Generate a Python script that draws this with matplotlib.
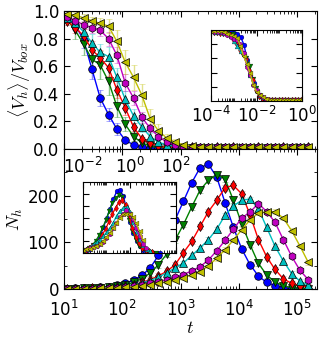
import matplotlib
matplotlib.use('Agg')
import matplotlib.pyplot as plt
import numpy as np
from matplotlib import ticker
from matplotlib.colors import to_rgba

plt.rcParams['mathtext.fontset'] = 'cm'
plt.rcParams['font.size'] = 12

# sampling times
t = [1.12, 1.56, 2.17, 3.01, 4.18, 5.81, 8.07, 11.2, 15.6, 21.7, 30.1, 41.8, 58.1, 80.7,
     112, 156, 217, 301, 418, 581, 807, 1122, 1560, 2168, 3012, 4180, 5808, 8072,
     11220, 15600, 21680, 30120, 41800, 58080, 80720, 112200, 156000]

colors = ['b', 'g', 'r', 'c', 'm', 'y']
markers = ['o', 'v', 'd', '^', 'h', '<']
# time scale used for the collapsed insets
tau = [7700, 11700, 16500, 20800, 29400, 41500]

# <V_h>/V_box
v_blue = [0.99, 0.99, 0.985, 0.98, 0.975, 0.97, 0.96,
          0.95, 0.90, 0.79, 0.58, 0.37, 0.25, 0.145, 0.065, 0.03, 0.014, 0.01,
          0.009, 0.009, 0.008, 0.009, 0.008, 0.009, 0.008, 0.008, 0.009, 0.008,
          0.008, 0.009, 0.008, 0.008, 0.009, 0.008, 0.008, 0.009, 0.008]
v_green = [0.99, 0.985, 0.98, 0.975, 0.97, 0.96, 0.95,
           0.94, 0.86, 0.76, 0.65, 0.61, 0.49, 0.31, 0.18, 0.09, 0.045, 0.02, 0.012,
           0.01, 0.009, 0.01, 0.009, 0.01, 0.009, 0.009, 0.01, 0.009, 0.01,
           0.009, 0.009, 0.01, 0.009, 0.01, 0.009, 0.009, 0.01]
v_red = [0.985, 0.98, 0.975, 0.97, 0.96, 0.955, 0.945,
         0.93, 0.88, 0.82, 0.72, 0.66, 0.59, 0.43, 0.30, 0.16, 0.075, 0.04, 0.02, 0.013,
         0.011, 0.01, 0.011, 0.01, 0.01, 0.011, 0.01, 0.011, 0.01,
         0.01, 0.011, 0.01, 0.01, 0.011, 0.01, 0.01, 0.011]
v_cyan = [0.99, 0.985, 0.98, 0.975, 0.97, 0.965, 0.96,
          0.95, 0.91, 0.85, 0.77, 0.70, 0.67, 0.52, 0.36, 0.24, 0.16, 0.09, 0.05, 0.03, 0.018,
          0.013, 0.012, 0.012, 0.011, 0.012, 0.011, 0.012, 0.011,
          0.012, 0.011, 0.011, 0.012, 0.011, 0.012, 0.011, 0.011]
v_mag = [0.99, 0.99, 0.985, 0.98, 0.975, 0.97, 0.965,
         0.96, 0.93, 0.90, 0.88, 0.86, 0.80, 0.68, 0.48, 0.37, 0.23, 0.15, 0.09, 0.05, 0.03, 0.018,
         0.013, 0.012, 0.012, 0.011, 0.012, 0.011, 0.012, 0.011,
         0.012, 0.011, 0.011, 0.012, 0.011, 0.012, 0.011]
v_yel = [0.995, 0.99, 0.99, 0.985, 0.985, 0.98, 0.98,
         0.98, 0.97, 0.95, 0.93, 0.91, 0.89, 0.78, 0.63, 0.52, 0.39, 0.22, 0.13, 0.08, 0.05, 0.03, 0.02,
         0.015, 0.014, 0.013, 0.014, 0.013, 0.014, 0.013,
         0.013, 0.014, 0.013, 0.014, 0.013, 0.013, 0.014]

e_blue = [0.005, 0.005, 0.005, 0.005, 0.005, 0.005, 0.005,
          0.02, 0.04, 0.06, 0.07, 0.06, 0.05, 0.04, 0.025, 0.012, 0.006, 0.004,
          0.003, 0.003, 0.003, 0.003, 0.003, 0.003, 0.003, 0.003, 0.003, 0.003,
          0.003, 0.003, 0.003, 0.003, 0.003, 0.003, 0.003, 0.003, 0.003]
e_green = [0.005, 0.005, 0.005, 0.005, 0.005, 0.005, 0.005,
           0.03, 0.06, 0.08, 0.09, 0.10, 0.10, 0.08, 0.05, 0.03, 0.015, 0.008, 0.005,
           0.003, 0.003, 0.003, 0.003, 0.003, 0.003, 0.003, 0.003, 0.003, 0.003,
           0.003, 0.003, 0.003, 0.003, 0.003, 0.003, 0.003, 0.003]
e_red = [0.005, 0.005, 0.005, 0.005, 0.005, 0.005, 0.005,
         0.03, 0.04, 0.05, 0.06, 0.06, 0.06, 0.06, 0.05, 0.03, 0.015, 0.008, 0.005, 0.004,
         0.003, 0.003, 0.003, 0.003, 0.003, 0.003, 0.003, 0.003, 0.003,
         0.003, 0.003, 0.003, 0.003, 0.003, 0.003, 0.003, 0.003]
e_cyan = [0.005, 0.005, 0.005, 0.005, 0.005, 0.005, 0.005,
          0.02, 0.04, 0.05, 0.06, 0.06, 0.07, 0.07, 0.06, 0.05, 0.04, 0.025, 0.015, 0.008, 0.005,
          0.003, 0.003, 0.003, 0.003, 0.003, 0.003, 0.003, 0.003,
          0.003, 0.003, 0.003, 0.003, 0.003, 0.003, 0.003, 0.003]
e_mag = [0.005, 0.005, 0.005, 0.005, 0.005, 0.005, 0.005,
         0.02, 0.03, 0.03, 0.04, 0.04, 0.05, 0.06, 0.06, 0.05, 0.04, 0.03, 0.02, 0.012, 0.008, 0.005,
         0.003, 0.003, 0.003, 0.003, 0.003, 0.003, 0.003, 0.003,
         0.003, 0.003, 0.003, 0.003, 0.003, 0.003, 0.003]
e_yel = [0.005, 0.005, 0.005, 0.005, 0.005, 0.005, 0.005,
         0.02, 0.02, 0.03, 0.03, 0.04, 0.05, 0.08, 0.09, 0.09, 0.08, 0.07, 0.05, 0.03, 0.02, 0.012, 0.008,
         0.004, 0.003, 0.003, 0.003, 0.003, 0.003, 0.003,
         0.003, 0.003, 0.003, 0.003, 0.003, 0.003, 0.003]

# N_h
n_blue = [0.1, 0.15, 0.2, 0.3, 0.4, 0.5, 0.7,
          1, 1.5, 2, 3, 4, 5, 8, 12, 19, 29, 45, 72, 108, 148, 188, 228, 260, 267,
          240, 185, 132, 86, 52, 28, 14, 7, 3, 1.5, 0.7, 0.3]
n_green = [0.05, 0.1, 0.15, 0.2, 0.3, 0.4, 0.6,
           0.8, 1, 1.4, 2, 3, 4, 6, 9, 14, 22, 34, 52, 75, 105, 138, 176, 212, 233,
           245, 236, 190, 140, 95, 55, 30, 15, 7, 3, 1.5, 0.7]
n_red = [0.05, 0.07, 0.1, 0.15, 0.2, 0.3, 0.4,
         0.5, 0.7, 1, 1.5, 2, 3, 4, 6, 9, 14, 20, 28, 38, 52, 78, 102, 134, 166,
         190, 217, 222, 204, 159, 106, 69, 42, 22, 12, 7, 4]
n_cyan = [0.03, 0.05, 0.07, 0.1, 0.15, 0.2, 0.3,
          0.4, 0.5, 0.7, 1, 1.5, 2.5, 4, 6, 9, 13, 18, 25, 35, 45, 56, 72, 88, 106,
          128, 158, 178, 190, 193, 172, 132, 92, 60, 33, 17, 8]
n_mag = [0.02, 0.03, 0.05, 0.07, 0.1, 0.15, 0.2,
         0.3, 0.4, 0.6, 0.9, 1.3, 2, 3, 4.5, 6.5, 9, 12, 15, 20, 25, 31, 39, 48, 62,
         82, 104, 128, 152, 165, 183, 166, 143, 106, 70, 40, 20]
n_yel = [0.02, 0.03, 0.04, 0.06, 0.08, 0.12, 0.2,
         0.3, 0.4, 0.5, 0.8, 1.2, 1.8, 2.5, 3.5, 5, 7, 9, 12, 15, 19, 24, 30, 37, 50,
         66, 84, 105, 127, 148, 163, 165, 166, 152, 125, 92, 57]
n_err = [6, 6, 6, 5, 5, 5]

vh = [v_blue, v_green, v_red, v_cyan, v_mag, v_yel]
vh_err = [e_blue, e_green, e_red, e_cyan, e_mag, e_yel]
nh = [n_blue, n_green, n_red, n_cyan, n_mag, n_yel]

W, H = 325, 341
fig = plt.figure(figsize=(W / 100, H / 100), dpi=100)


def box(x0, y0, x1, y1):
    return [x0 / W, 1 - y1 / H, (x1 - x0) / W, (y1 - y0) / H]


def style(ax):
    ax.tick_params(which='both', direction='in', top=True, right=True, labelsize=12)
    ax.tick_params(which='major', length=4)
    ax.tick_params(which='minor', length=2)


ax1 = fig.add_axes(box(64, 11, 317, 149))
ax2 = fig.add_axes(box(64, 149, 317, 289), sharex=ax1)

tt = np.array(t)
for i in range(6):
    c = colors[i]
    kw = dict(fmt='-', color=c, marker=markers[i], ms=5.5, mec='k', mew=0.5, lw=1,
              ecolor=to_rgba(c, 0.45), elinewidth=1, capsize=2.5)
    ax1.errorbar(tt, vh[i], yerr=vh_err[i], **kw)
    ax2.errorbar(tt, nh[i], yerr=n_err[i], **kw)

ax1.set_xscale('log')
ax1.set_xlim(10, 2.2e5)
ax1.set_ylim(0, 1)
ax1.set_yticks([0, 0.2, 0.4, 0.6, 0.8, 1.0])
ax1.yaxis.set_major_formatter(ticker.FormatStrFormatter('%.1f'))
ax1.tick_params(labelbottom=False)
ax1.set_ylabel(r'$\langle V_h\rangle/V_{box}$', fontsize=13, labelpad=0)
style(ax1)

ax2.set_ylim(0, 300)
ax2.set_yticks([0, 100, 200])
ax2.yaxis.set_minor_locator(ticker.MultipleLocator(50))
ax2.set_ylabel(r'$N_h$', fontsize=13, labelpad=2)
ax2.set_xlabel(r'$t$', fontsize=13, labelpad=-1)
style(ax2)
ax2.tick_params(axis='x', pad=8)
ax2.set_xlim(10, 2.2e5)

# insets: same data against rescaled time
in1 = fig.add_axes(box(211, 30, 302, 101))
in2 = fig.add_axes(box(83, 182, 176, 253))
for i in range(6):
    xs = tt / tau[i]
    in1.plot(xs, vh[i], '-', color=colors[i], marker=markers[i], ms=3.5, mec='k', mew=0.2, lw=1)
    in2.plot(xs, nh[i], '-', color=colors[i], marker=markers[i], ms=3.5, mec='k', mew=0.2, lw=1)

in1.set_xscale('log')
in1.set_xlim(1e-4, 1)
in1.set_ylim(0, 1)
in1.set_xticks([1e-4, 1e-2, 1])
in1.xaxis.set_minor_locator(ticker.LogLocator(base=10, subs=np.arange(1, 10), numticks=20))
in1.xaxis.set_minor_formatter(ticker.NullFormatter())
in1.set_yticks([0.2, 0.4, 0.6, 0.8])
in1.tick_params(labelleft=False)
style(in1)

in2.set_xscale('log')
in2.set_xlim(1e-2, 1e2)
in2.set_ylim(0, 300)
in2.set_xticks([1e-2, 1, 1e2])
in2.xaxis.set_minor_locator(ticker.LogLocator(base=10, subs=np.arange(1, 10), numticks=20))
in2.xaxis.set_minor_formatter(ticker.NullFormatter())
in2.set_yticks([50, 100, 150, 200, 250])
style(in2)
in2.tick_params(labelleft=False, labelbottom=False, labeltop=True)

fig.savefig('out.png', dpi=100)
